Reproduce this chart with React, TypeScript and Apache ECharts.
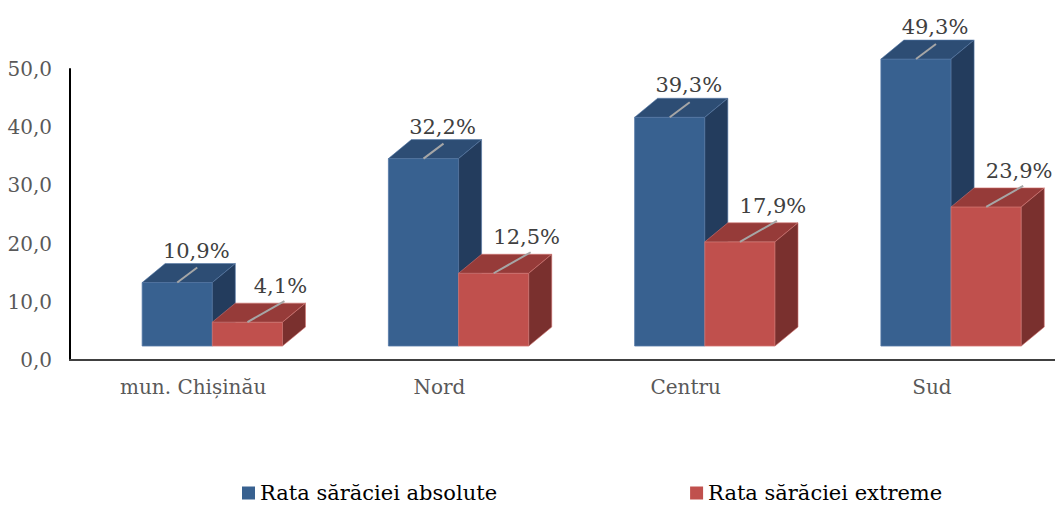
import React, { useEffect, useRef } from "react";
import * as echarts from "echarts";

const categories = ["mun. Chișinău", "Nord", "Centru", "Sud"];
const seriesNames = ["Rata sărăciei absolute", "Rata sărăciei extreme"];
const absoluteValues = [10.9, 32.2, 39.3, 49.3];
const extremeValues = [4.1, 12.5, 17.9, 23.9];
const yTicks = { min: 0, max: 50, interval: 10 };

const FONT = "DejaVu Serif";

const palettes = [
  { front: "#386190", top: "#2d4d74", side: "#233c5d", edge: "#5679a6" },
  { front: "#c0504d", top: "#963b39", side: "#7a302e", edge: "#d27572" },
];

const labelPlace = [
  { lx: 19, ly: -32, ex: 20, ey: -15 },
  { lx: 33, ly: -36, ex: 37, ey: -21 },
];

const fmt = (v: number) => v.toFixed(1).replace(".", ",");

function makeRender(s: number) {
  return (params: any, api: any) => {
    const idx = api.value(0);
    const v = api.value(1);
    const base = api.coord([idx, 0]);
    const topPt = api.coord([idx, v]);
    const band = api.size([1, 0])[0];
    const bw = band * 0.285;
    const cx = base[0];
    const left = cx - band * 0.207 + s * bw;
    const floor = 14;
    const dx = 23;
    const dy = 19;
    const yBot = base[1] - floor;
    const yTop = topPt[1] - floor;
    const p = palettes[s];
    const lp = labelPlace[s];
    const fcx = left + bw / 2;
    return {
      type: "group",
      children: [
        {
          type: "rect",
          shape: { x: left, y: yTop, width: bw, height: yBot - yTop },
          style: { fill: p.front, stroke: p.edge, lineWidth: 0.8 },
        },
        {
          type: "polygon",
          shape: {
            points: [
              [left, yTop],
              [left + dx, yTop - dy],
              [left + bw + dx, yTop - dy],
              [left + bw, yTop],
            ],
          },
          style: { fill: p.top, stroke: p.edge, lineWidth: 0.6 },
        },
        {
          type: "polygon",
          shape: {
            points: [
              [left + bw, yTop],
              [left + bw + dx, yTop - dy],
              [left + bw + dx, yBot - dy],
              [left + bw, yBot],
            ],
          },
          style: { fill: p.side, stroke: p.edge, lineWidth: 0.6 },
        },
        {
          type: "line",
          shape: { x1: fcx, y1: yTop, x2: fcx + lp.ex, y2: yTop + lp.ey },
          style: { stroke: "#a6a6a6", lineWidth: 2 },
        },
        {
          type: "text",
          x: fcx + lp.lx,
          y: yTop + lp.ly,
          style: {
            text: fmt(v) + "%",
            fontFamily: FONT,
            fontSize: 21,
            fill: "#404040",
            align: "center",
            verticalAlign: "middle",
          },
        },
      ],
    };
  };
}

export default function App() {
  const ref = useRef<HTMLDivElement>(null);
  useEffect(() => {
    if (!ref.current) return;
    const chart = echarts.init(ref.current, undefined, { renderer: "svg" });
    const dataSets = [absoluteValues, extremeValues];
    chart.setOption({
      animation: false,
      backgroundColor: "#ffffff",
      textStyle: { fontFamily: FONT },
      grid: { left: 70, right: 0, top: 69, bottom: 146 },
      legend: {
        left: 242,
        top: 479,
        itemWidth: 13,
        itemHeight: 13,
        itemGap: 193,
        padding: 0,
        textStyle: { fontFamily: FONT, fontSize: 21, color: "#000000", lineHeight: 28 },
        data: seriesNames.map((n, i) => ({
          name: n,
          icon: "rect",
          itemStyle: { color: palettes[i].front },
        })),
      },
      xAxis: {
        type: "category",
        data: categories,
        axisLine: { lineStyle: { color: "#404040", width: 2 } },
        axisTick: { show: false },
        axisLabel: {
          margin: 17,
          fontFamily: FONT,
          fontSize: 20,
          color: "#595959",
        },
      },
      yAxis: {
        type: "value",
        min: yTicks.min,
        max: yTicks.max,
        interval: yTicks.interval,
        axisLine: { show: true, lineStyle: { color: "#000000", width: 2 } },
        axisTick: { show: false },
        splitLine: { show: false },
        axisLabel: {
          margin: 18,
          fontFamily: FONT,
          fontSize: 20,
          color: "#595959",
          formatter: (val: number) => fmt(val),
        },
      },
      series: dataSets.map((vals, s) => ({
        type: "custom",
        name: seriesNames[s],
        itemStyle: { color: palettes[s].front },
        renderItem: makeRender(s),
        encode: { x: 0, y: 1 },
        data: vals.map((v, i) => [i, v]),
        clip: false,
      })),
    });
    return () => chart.dispose();
  }, []);
  return (
    <div
      ref={ref}
      style={{ position: "fixed", left: 0, top: 0, width: 1055, height: 506 }}
    />
  );
}
